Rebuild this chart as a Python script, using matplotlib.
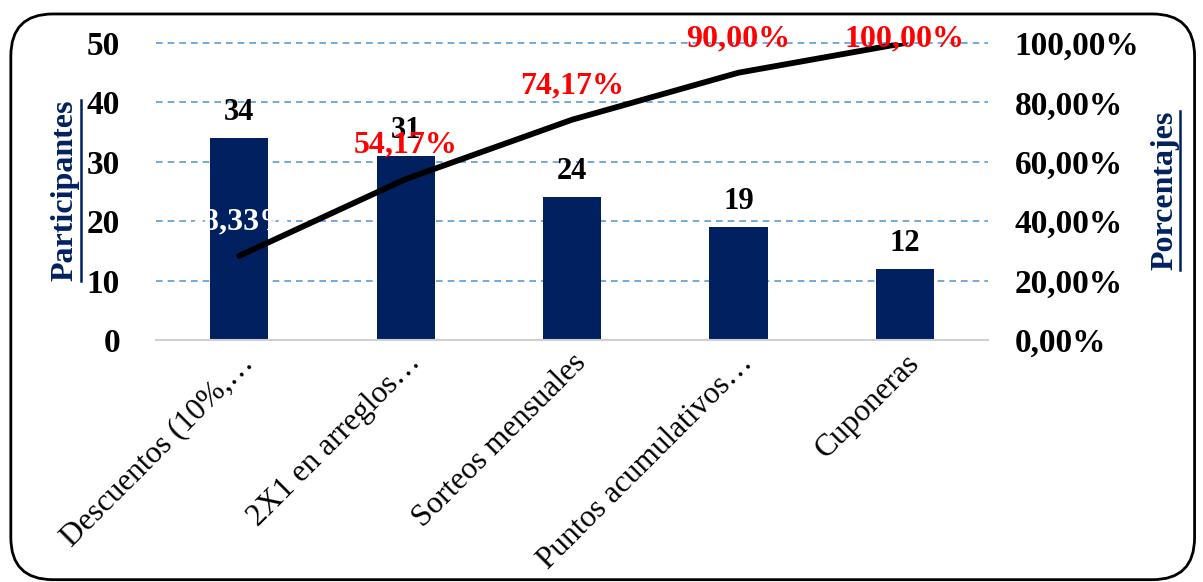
import matplotlib
matplotlib.use('Agg')
import matplotlib.pyplot as plt
from matplotlib.patches import FancyBboxPatch
from matplotlib.lines import Line2D
from matplotlib.ticker import FuncFormatter
import numpy as np

# Survey data
categorias = ['Descuentos (10%,…', '2X1 en arreglos…', 'Sorteos mensuales',
              'Puntos acumulativos…', 'Cuponeras']
participantes = [34, 31, 24, 19, 12]
acumulado = [28.33, 54.17, 74.17, 90.00, 100.00]
etiqueta_colores = ['white', 'red', 'red', 'red', 'red']

NAVY = '#002060'
plt.rcParams['font.family'] = ['Liberation Serif', 'DejaVu Serif']

fig = plt.figure(figsize=(12.03, 5.82), dpi=100)
ax = fig.add_axes([0.1297, 0.4158, 0.6916, 0.5103])

x = np.arange(len(categorias))
ax.bar(x, participantes, width=0.35, color=NAVY, zorder=2)
for xi, v in zip(x, participantes):
    ax.annotate(str(v), (xi, v), xytext=(0, 8), textcoords='offset points',
                ha='center', va='bottom', fontsize=22, fontweight='bold', color='black')

ax.set_xlim(-0.5, len(categorias) - 0.5)
ax.set_ylim(0, 50)
ax.set_yticks(range(0, 51, 10))
ax.grid(axis='y', color='#5B9BD5', linestyle=(0, (4, 3)), linewidth=1.2, zorder=0)
for gl in ax.get_ygridlines():
    gl.set_clip_on(False)
ax.set_axisbelow(True)
for s in ['top', 'left', 'right']:
    ax.spines[s].set_visible(False)
ax.spines['bottom'].set_color('#D0D0D0')
ax.spines['bottom'].set_linewidth(1.5)
ax.tick_params(axis='y', length=0, pad=26, labelsize=24)
ax.tick_params(axis='x', length=0, pad=6)
for lab in ax.get_yticklabels():
    lab.set_fontweight('bold')
ax.set_xticks(x)
ax.set_xticklabels(categorias, rotation=45, ha='right', va='top',
                   rotation_mode='anchor', fontsize=22.5)

# Cumulative percentage line
ax2 = ax.twinx()
ax2.plot(x, acumulado, color='black', linewidth=4.2, solid_capstyle='round', zorder=3)
ax2.set_ylim(0, 100)
ax2.set_yticks(range(0, 101, 20))
ax2.yaxis.set_major_formatter(FuncFormatter(lambda v, p: f'{v:.2f}'.replace('.', ',') + '%'))
ax2.tick_params(axis='y', length=0, pad=19, labelsize=24)
for lab in ax2.get_yticklabels():
    lab.set_fontweight('bold')
for s in ax2.spines.values():
    s.set_visible(False)

for xi, v, c in zip(x, acumulado, etiqueta_colores):
    ly = min(v + 11.5, 101.5)
    ax2.text(xi, ly, f'{v:.2f}'.replace('.', ',') + '%', ha='center', va='center',
             fontsize=23, fontweight='bold', color=c, zorder=4)

# Axis titles, underlined
t1 = fig.text(0.054, 0.673, 'Participantes', rotation=90, ha='center', va='center',
              fontsize=23, fontweight='bold', color=NAVY)
t2 = fig.text(0.968, 0.673, 'Porcentajes', rotation=90, ha='center', va='center',
              fontsize=23, fontweight='bold', color=NAVY)
fig.canvas.draw()
r = fig.canvas.get_renderer()
for t in (t1, t2):
    bb = t.get_window_extent(r).transformed(fig.transFigure.inverted())
    xl = bb.x1 + 0.001
    fig.add_artist(Line2D([xl, xl], [bb.y0, bb.y1], color=NAVY, linewidth=1.8,
                          transform=fig.transFigure))

# Rounded frame around the chart
frame = FancyBboxPatch((0.009, 0.004), 0.984, 0.972, boxstyle='round,pad=0,rounding_size=0.035',
                       transform=fig.transFigure, fill=False, edgecolor='black',
                       linewidth=2, mutation_aspect=1203 / 582)
fig.add_artist(frame)

fig.savefig('out.png', dpi=100, facecolor='white')
